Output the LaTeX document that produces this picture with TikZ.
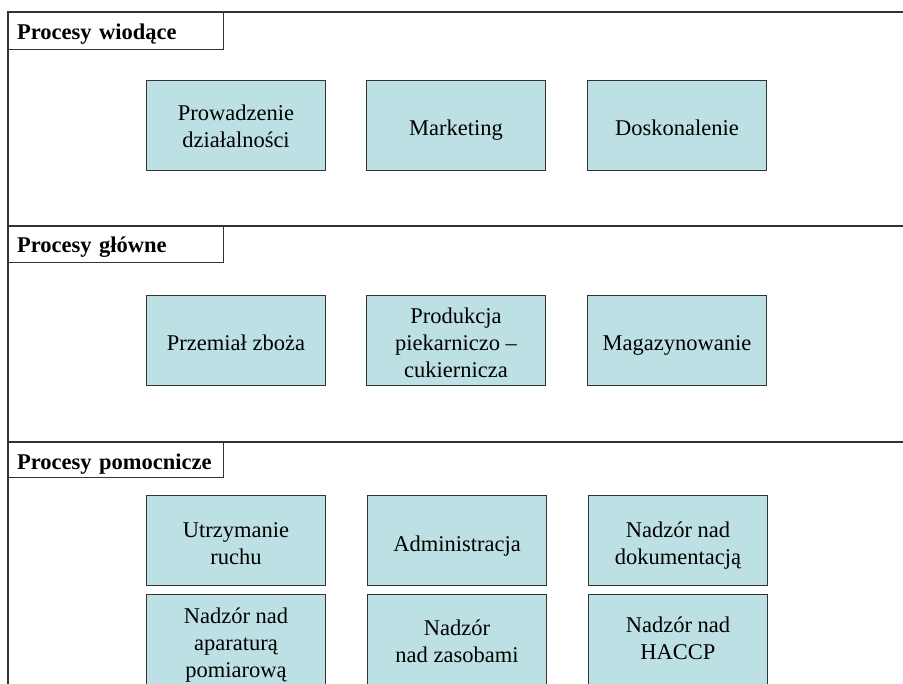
\documentclass[tikz,border=0pt]{standalone}
\usepackage{fontspec}
\setmainfont{Liberation Serif}
\usetikzlibrary{calc}
\begin{document}
\begin{tikzpicture}[x=1pt,y=-1pt,
  frameline/.style={draw=black!80, line width=1.2pt},
  % fixed first-line height and last-line depth keep the baselines steady
  linestruts/.style 2 args={execute at begin node={\rule{0pt}{#1}},
    execute at end node={\rule[-#2]{0pt}{#2}}},
  sectionhead/.style={draw=black!80, line width=1.1pt, anchor=north west,
    minimum height=37pt, text width=198pt, inner xsep=8.5pt, inner ysep=0pt,
    align=left, font=\fontsize{22.5}{27}\selectfont\bfseries,
    linestruts={18pt}{5pt}},
  procbox/.style={draw=black!80, line width=0.8pt,
    fill={rgb,255:red,188;green,224;blue,227},
    minimum width=179pt, minimum height=90pt, inner sep=0pt},
  proctext/.style={inner sep=0pt, align=center,
    font=\fontsize{22.5}{27}\selectfont}]
\useasboundingbox (0,0) rectangle (903,684);
\clip (0,0) rectangle (903,684);

% outer frame and section separators
\coordinate (fbl) at (8,690);
\coordinate (ftl) at (8,12);
\coordinate (ftr) at (910,12);
\coordinate (s2l) at (8,226);
\coordinate (s2r) at (910,226);
\coordinate (s3l) at (8,442);
\coordinate (s3r) at (910,442);
\draw[frameline] (fbl) -- (ftl) -- (ftr);
\draw[frameline] (s2l) -- (s2r);
\draw[frameline] (s3l) -- (s3r);

% section headings
\node[sectionhead, linestruts={21pt}{5pt}] (h1) at (ftl) {Procesy wiodące};
\node[sectionhead, minimum height=36pt, linestruts={20pt}{5pt}] (h2) at (s2l) {Procesy główne};
\node[sectionhead, minimum height=35pt, linestruts={24pt}{5pt}] (h3) at (s3l) {Procesy pomocnicze};

% leading processes
\node[procbox] (p11) at (236,125) {};
\node[procbox] (p12) at (456,125) {};
\node[procbox] (p13) at (677,125) {};
\node[proctext] (t11) at ($(p11)+(0,1.5)$) {Prowadzenie\\działalności};
\node[proctext] (t12) at ($(p12)+(0,5)$) {Marketing};
\node[proctext] (t13) at ($(p13)+(0,3)$) {Doskonalenie};

% main processes
\node[procbox] (p21) at (236,340) {};
\node[procbox] (p22) at (456,340) {};
\node[procbox] (p23) at (677,340) {};
\node[proctext] (t21) at ($(p21)+(0,2.5)$) {Przemiał zboża};
\node[proctext] (t22) at ($(p22)+(0,3)$) {Produkcja\\piekarniczo –\\cukiernicza};
\node[proctext] (t23) at ($(p23)+(0,5)$) {Magazynowanie};

% support processes
\node[procbox] (p31) at (236,540) {};
\node[procbox] (p32) at (457,540) {};
\node[procbox] (p33) at (678,540) {};
\node[procbox, minimum height=92pt] (p41) at (236,640) {};
\node[procbox, minimum height=92pt] (p42) at (457,640) {};
\node[procbox, minimum height=92pt] (p43) at (678,640) {};
\node[proctext] (t31) at ($(p31)+(0,4)$) {Utrzymanie\\ruchu};
\node[proctext] (t32) at ($(p32)+(0,6)$) {Administracja};
\node[proctext] (t33) at ($(p33)+(0,6)$) {Nadzór nad\\dokumentacją};
\node[proctext] (t41) at ($(p41)+(0,5)$) {Nadzór nad\\aparaturą\\pomiarową};
\node[proctext] (t42) at ($(p42)+(0,1)$) {Nadzór\\nad zasobami};
\node[proctext] (t43) at ($(p43)+(0,-2)$) {Nadzór nad\\HACCP};
\end{tikzpicture}
\end{document}
